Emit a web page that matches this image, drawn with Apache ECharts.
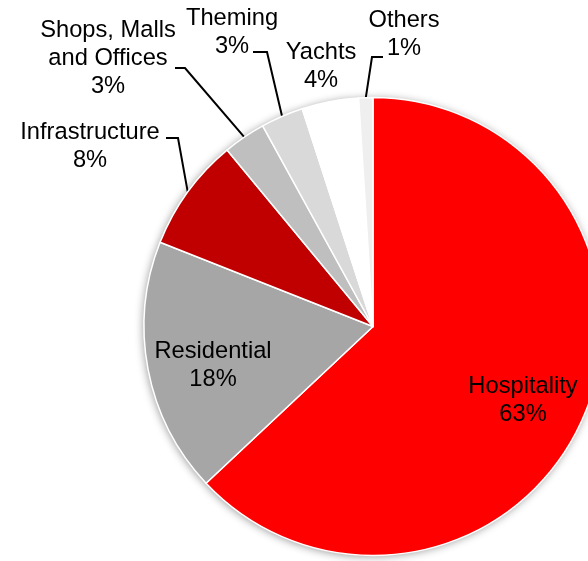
<!DOCTYPE html>
<html>
<head>
<meta charset="utf-8">
<style>html,body{margin:0;padding:0;background:#fff;}#c{width:588px;height:561px;}</style>
<script src="https://cdn.jsdelivr.net/npm/echarts@6/dist/echarts.min.js"></script>
</head>
<body>
<div id="c"></div>
<script>
var categories = ['Hospitality', 'Residential', 'Infrastructure', 'Shops, Malls\nand Offices', 'Theming', 'Yachts', 'Others'];
var values = [63, 18, 8, 3, 3, 4, 1];
var colors = ['#FF0000', '#A6A6A6', '#C00000', '#BFBFBF', '#D9D9D9', '#FFFFFF', '#EFEFEF'];

// label layout (centers) and leader line kinks
var labelPos = [
  {x: 523, y: 400},
  {x: 213, y: 365},
  {x: 90, y: 146},
  {x: 108, y: 58},
  {x: 232, y: 32},
  {x: 321, y: 66},
  {x: 404, y: 34}
];
var leaders = [
  null,
  null,
  [[178, 138], [166, 138]],
  [[185, 68], [175, 68]],
  [[267, 52], [253, 52]],
  null,
  [[372, 57], [383, 57]]
];

var data = categories.map(function (c, i) {
  return {
    name: c,
    value: values[i],
    itemStyle: {color: colors[i]},
    labelLine: {show: !!leaders[i]}
  };
});

var chart = echarts.init(document.getElementById('c'), null, {renderer: 'canvas'});
chart.setOption({
  animation: false,
  series: [
    {
      type: 'pie',
      silent: true,
      z: 1,
      center: [373, 326.5],
      radius: 229,
      startAngle: 90,
      clockwise: true,
      data: values.map(function (v) { return {value: v}; }),
      itemStyle: {color: '#ffffff', shadowBlur: 9, shadowColor: 'rgba(0,0,0,0.4)', shadowOffsetX: -1, shadowOffsetY: 1},
      label: {show: false},
      labelLine: {show: false}
    },
    {
      type: 'pie',
      z: 2,
      center: [373, 326.5],
      radius: 229,
      startAngle: 90,
      clockwise: true,
      avoidLabelOverlap: false,
      data: data,
      itemStyle: {borderColor: '#ffffff', borderWidth: 1.5},
      label: {
        show: true,
        position: 'outside',
        formatter: function (p) { return p.name + '\n' + p.value + '%'; },
        color: '#000',
        fontFamily: 'Liberation Sans, Arial, sans-serif',
        fontSize: 23.7,
        lineHeight: 28,
        align: 'center'
      },
      labelLine: {show: true, length: 10, length2: 10, lineStyle: {color: '#000', width: 2}},
      labelLayout: function (params) {
        var i = params.dataIndex;
        var p = labelPos[i];
        var res = {x: p.x, y: p.y, align: 'center', verticalAlign: 'middle'};
        if (leaders[i] && params.labelLinePoints) {
          var s = params.labelLinePoints[0];
          res.labelLinePoints = [[s[0], s[1]], leaders[i][0], leaders[i][1]];
        }
        return res;
      }
    }
  ]
});
</script>
</body>
</html>
